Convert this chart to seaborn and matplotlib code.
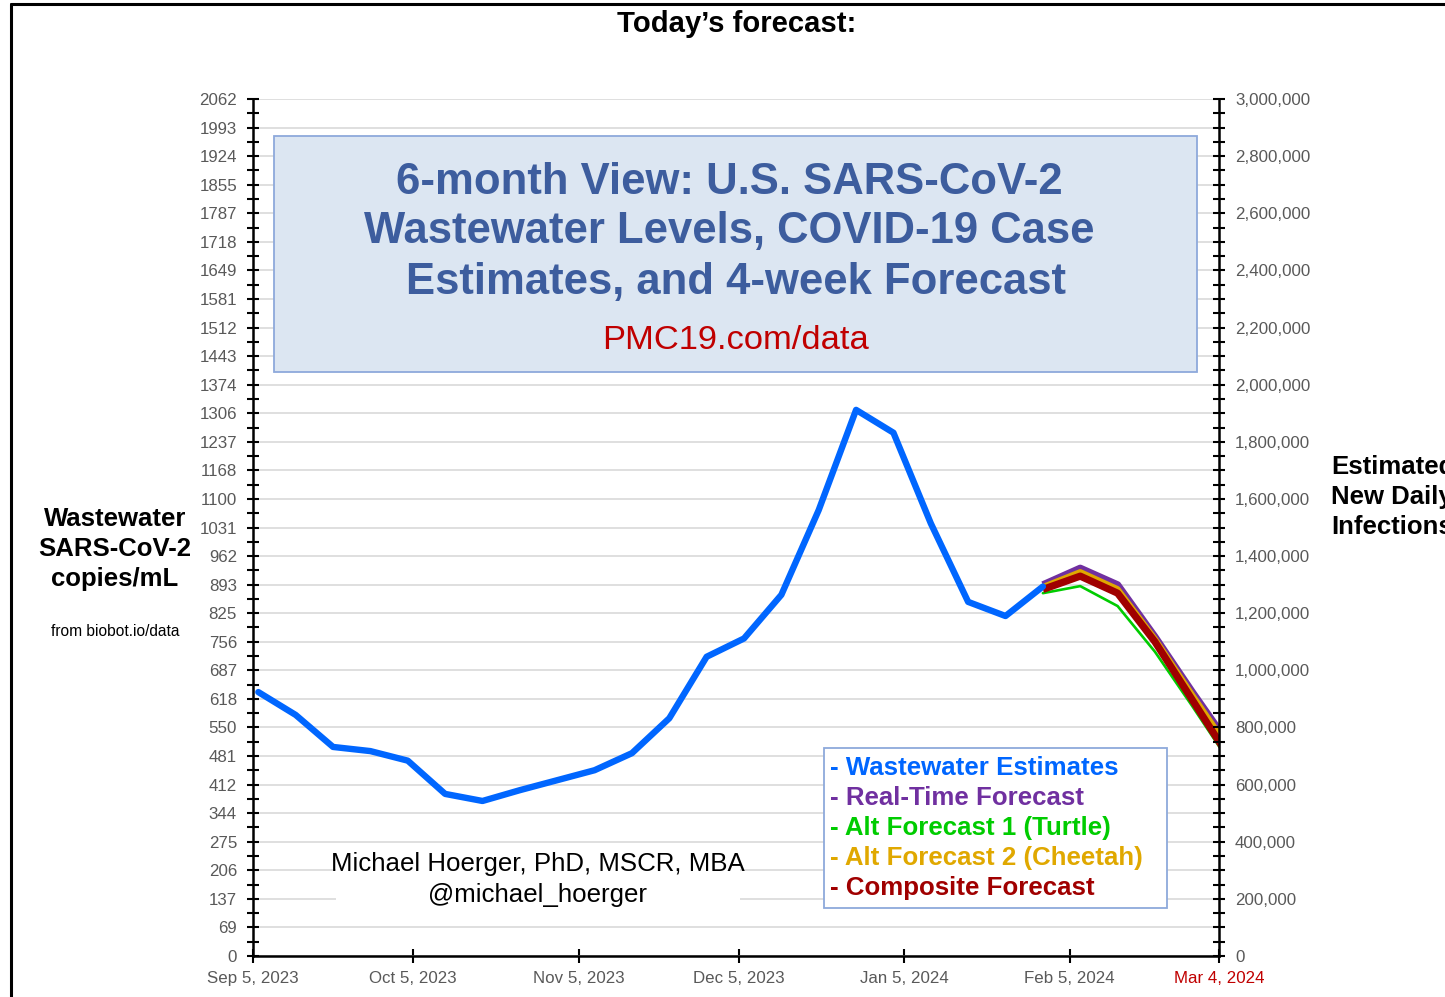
import numpy as np
import pandas as pd
import matplotlib
matplotlib.use("Agg")
import matplotlib.pyplot as plt
import matplotlib.dates as mdates
from matplotlib.lines import Line2D
from matplotlib.patches import Rectangle
from matplotlib.ticker import FixedLocator, MultipleLocator, FuncFormatter
import seaborn as sns

# ---------------- data ----------------
ww_dates = pd.date_range("2023-09-06", "2024-01-31", freq="7D")
ww_values = [635, 580, 503, 493, 470, 390, 373, 399, 423, 447, 488, 572,
             720, 764, 869, 1073, 1314, 1259, 1041, 852, 818, 889]

fc_dates = pd.date_range("2024-01-31", "2024-03-06", freq="7D")
realtime_fc = [893, 933, 893, 768, 635, 507]
cheetah_fc = [888, 924, 883, 763, 628, 497]
composite_fc = [882, 914, 873, 756, 616, 476]
turtle_fc = [873, 890, 842, 732, 601, 466]

left_max = 2062
left_tick_labels = ["0", "69", "137", "206", "275", "344", "412", "481", "550",
                    "618", "687", "756", "825", "893", "962", "1031", "1100",
                    "1168", "1237", "1306", "1374", "1443", "1512", "1581",
                    "1649", "1718", "1787", "1855", "1924", "1993", "2062"]
right_max = 3_000_000

x_tick_dates = pd.to_datetime(["2023-09-05", "2023-10-05", "2023-11-05",
                               "2023-12-05", "2024-01-05", "2024-02-05",
                               "2024-03-04"])
x_tick_labels = ["Sep 5, 2023", "Oct 5, 2023", "Nov 5, 2023", "Dec 5, 2023",
                 "Jan 5, 2024", "Feb 5, 2024", "Mar 4, 2024"]

legend_items = ["- Wastewater Estimates", "- Real-Time Forecast",
                "- Alt Forecast 1 (Turtle)", "- Alt Forecast 2 (Cheetah)",
                "- Composite Forecast"]

# ---------------- style ----------------
sns.set_style("white")
plt.rcParams["font.family"] = ["Liberation Sans", "DejaVu Sans"]

C_BLUE = "#0066FF"
C_PURPLE = "#7030A0"
C_GREEN = "#00CC00"
C_ORANGE = "#E0A800"
C_RED = "#A00000"
C_GREY = "#595959"

W, H = 1445, 997
fig = plt.figure(figsize=(W / 100, H / 100), dpi=100)
fig.patch.set_facecolor("white")

def fx(px):
    return px / W

def fy(py):
    return 1 - py / H

ax = fig.add_axes([fx(253), fy(956), fx(1219) - fx(253), fy(99) - fy(956)])

ww_df = pd.DataFrame({"date": ww_dates, "value": ww_values})
fc_df = pd.DataFrame({"date": fc_dates, "realtime": realtime_fc,
                      "cheetah": cheetah_fc, "composite": composite_fc,
                      "turtle": turtle_fc})

sns.lineplot(data=fc_df, x="date", y="turtle", ax=ax, color=C_GREEN, lw=1.9, zorder=3)
sns.lineplot(data=fc_df, x="date", y="realtime", ax=ax, color=C_PURPLE, lw=5.2, zorder=4,
             solid_joinstyle="round", solid_capstyle="butt")
sns.lineplot(data=fc_df, x="date", y="cheetah", ax=ax, color=C_ORANGE, lw=4.2, zorder=5,
             solid_joinstyle="round", solid_capstyle="butt")
sns.lineplot(data=fc_df, x="date", y="composite", ax=ax, color=C_RED, lw=5.2, zorder=6,
             solid_joinstyle="round", solid_capstyle="butt")
sns.lineplot(data=ww_df, x="date", y="value", ax=ax, color=C_BLUE, lw=4.6, zorder=7,
             solid_joinstyle="round", solid_capstyle="round")

ax.set_xlim(x_tick_dates[0], x_tick_dates[-1])
ax.set_ylim(0, left_max)
ax.set_xlabel("")
ax.set_ylabel("")

# left y ticks
step = left_max / 30
major_pos = [k * step for k in range(31)]
minor_pos = [(k + 0.5) * step for k in range(30)]
ax.yaxis.set_major_locator(FixedLocator(major_pos))
ax.yaxis.set_minor_locator(FixedLocator(minor_pos))
ax.set_yticklabels(left_tick_labels)
ax.tick_params(axis="y", which="both", direction="inout", length=9, width=1.5,
               color="black", left=True, right=False, labelsize=12.2,
               labelcolor=C_GREY, pad=7)

# x ticks
ax.set_xticks(x_tick_dates)
ax.set_xticklabels(x_tick_labels)
ax.tick_params(axis="x", which="major", direction="inout", length=10, width=1.5,
               color="black", bottom=True, labelsize=12.2, labelcolor=C_GREY, pad=6)
ax.get_xticklabels()[-1].set_color("#C00000")
ax.xaxis.get_major_ticks()[-1].tick1line.set_color("#C00000")

ax.yaxis.grid(True, which="major", color="#D9D9D9", lw=1.2)
ax.xaxis.grid(False)
for s in ["top", "right"]:
    ax.spines[s].set_visible(False)
for s in ["left", "bottom"]:
    ax.spines[s].set_visible(True)
    ax.spines[s].set_color("black")
    ax.spines[s].set_linewidth(1.8)
ax.spines["left"].set_zorder(10)

# right axis
ax2 = ax.twinx()
ax2.set_ylim(0, right_max)
ax2.yaxis.set_major_locator(MultipleLocator(200_000))
ax2.yaxis.set_minor_locator(MultipleLocator(50_000))
ax2.yaxis.set_major_formatter(FuncFormatter(lambda v, p: f"{int(round(v)):,}"))
ax2.tick_params(axis="y", which="both", direction="inout", length=9, width=1.5,
                color="black", right=True, left=False, labelsize=12.2,
                labelcolor=C_GREY, pad=7)
ax2.grid(False)
for s in ["top", "left", "bottom"]:
    ax2.spines[s].set_visible(False)
ax2.spines["right"].set_visible(True)
ax2.spines["right"].set_color("black")
ax2.spines["right"].set_linewidth(1.8)

# ---------------- figure texts ----------------
def ftext(px, py, s, **kw):
    kw.setdefault("va", "baseline")
    return fig.text(fx(px), fy(py), s, **kw)

# outer frame
fig.add_artist(Line2D([fx(11), fx(11)], [0, fy(4)], color="black", lw=2.2))
fig.add_artist(Line2D([fx(11), 1], [fy(4), fy(4)], color="black", lw=2.2))

ftext(737, 32, "Today\u2019s forecast:", ha="center", fontsize=21.1,
      fontweight="bold", color="black")

# title box
fig.add_artist(Rectangle((fx(274), fy(372)), fx(1197) - fx(274), fy(136) - fy(372),
                         transform=fig.transFigure, facecolor="#DCE6F2",
                         edgecolor="#8EA9DB", lw=1.3, zorder=5))
TITLE_C = "#3D5D9E"
ftext(729, 193.5, "6-month View: U.S. SARS-CoV-2", ha="center", fontsize=31.4,
      fontweight="bold", color=TITLE_C, zorder=6)
ftext(729, 243.5, "Wastewater Levels, COVID-19 Case", ha="center", fontsize=31.4,
      fontweight="bold", color=TITLE_C, zorder=6)
ftext(736, 293.5, "Estimates, and 4-week Forecast", ha="center", fontsize=31.4,
      fontweight="bold", color=TITLE_C, zorder=6)
ftext(735.5, 349, "PMC19.com/data", ha="center", fontsize=24.8,
      color="#C00000", zorder=6)

# legend box
fig.add_artist(Rectangle((fx(824), fy(908)), fx(1167) - fx(824), fy(748) - fy(908),
                         transform=fig.transFigure, facecolor="white",
                         edgecolor="#8EA9DB", lw=1.3, zorder=5))
leg_colors = [C_BLUE, C_PURPLE, C_GREEN, C_ORANGE, C_RED]
for i, (txt, c) in enumerate(zip(legend_items, leg_colors)):
    ftext(830, 775 + 30 * i, txt, ha="left", fontsize=18.6, fontweight="bold",
          color=c, zorder=6)

# author block (white background)
fig.add_artist(Rectangle((fx(336), fy(910)), fx(740) - fx(336), fy(850) - fy(910),
                         transform=fig.transFigure, facecolor="white",
                         edgecolor="none", zorder=5))
ftext(538, 871, "Michael Hoerger, PhD, MSCR, MBA", ha="center", fontsize=18.6,
      color="black", zorder=6)
ftext(538, 902, "@michael_hoerger", ha="center", fontsize=18.6,
      color="black", zorder=6)

# left axis label
for i, line in enumerate(["Wastewater", "SARS-CoV-2", "copies/mL"]):
    ftext(115, 526 + 30 * i, line, ha="center", fontsize=18.5,
          fontweight="bold", color="black")
ftext(115, 636, "from biobot.io/data", ha="center", fontsize=11.2, color="black")

# right axis label (cut at the figure edge as in the original)
for i, line in enumerate(["Estimated", "New Daily", "Infections"]):
    ftext(1331, 474 + 30 * i, line, ha="left", fontsize=18.5,
          fontweight="bold", color="black")

fig.savefig("out.png", dpi=100, facecolor="white")
